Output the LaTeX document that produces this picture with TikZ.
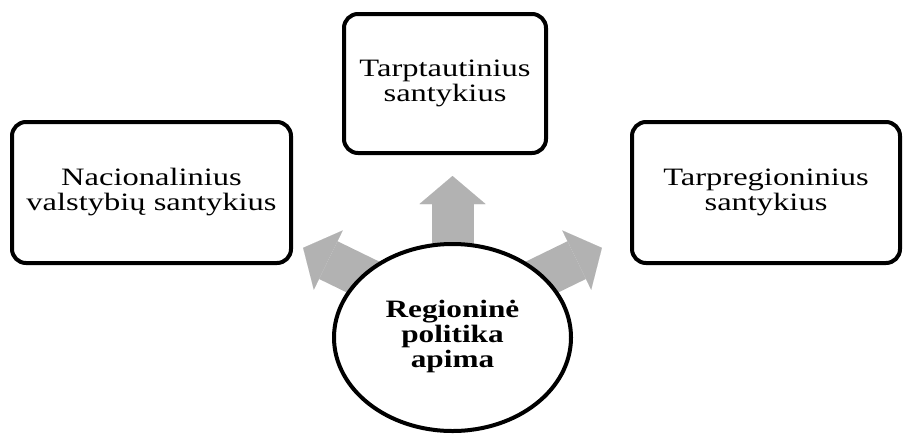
\documentclass[tikz,border=0pt]{standalone}
\usepackage{fontspec}
\setmainfont{Liberation Serif}
\usetikzlibrary{arrows.meta,backgrounds,shapes.geometric}
\definecolor{arrowgray}{RGB}{178,178,178}
\begin{document}
\begin{tikzpicture}[x=1pt,y=1pt,
  box/.style={draw, line width=4pt, rounded corners=14pt, rectangle, inner sep=0pt, outer sep=0pt, align=center, font=\fontsize{25}{25}\selectfont},
  hub/.style={draw, ellipse, line width=4pt, fill=white, inner sep=0pt, outer sep=0pt, minimum width=237pt, minimum height=187pt, font=\fontsize{25}{25}\selectfont\bfseries},
  fat/.style={draw=arrowgray, line width=42pt, shorten <=-12pt, -{Triangle[length=28pt,width=66pt,line width=0.01pt]}}]
\useasboundingbox (0,0) rectangle (904,-437);
\node[hub] (c) at (452.5,-337.5) {\raisebox{-6pt}{\scalebox{1.25}[1]{\begin{tabular}{@{}c@{}}Regioninė\\politika\\apima\end{tabular}}}};
\node[box, minimum width=279pt, minimum height=141pt] (l) at (151.5,-192.5) {\raisebox{-5pt}{\scalebox{1.3}[1]{\begin{tabular}{@{}c@{}}Nacionalinius\\valstybių santykius\end{tabular}}}};
\node[box, minimum width=202pt, minimum height=139pt] (t) at (445,-83.5) {\raisebox{-6pt}{\scalebox{1.3}[1]{\begin{tabular}{@{}c@{}}Tarptautinius\\santykius\end{tabular}}}};
\node[box, minimum width=268pt, minimum height=141pt] (r) at (766,-192.5) {\raisebox{-6pt}{\scalebox{1.3}[1]{\begin{tabular}{@{}c@{}}Tarpregioninius\\santykius\end{tabular}}}};
\begin{scope}[on background layer]
\draw[fat] (c.90) -- ++(90:68pt);
\draw[fat] (c.146) -- ++(154:66pt);
\draw[fat] (c.34) -- ++(26:66pt);
\end{scope}
\end{tikzpicture}
\end{document}
